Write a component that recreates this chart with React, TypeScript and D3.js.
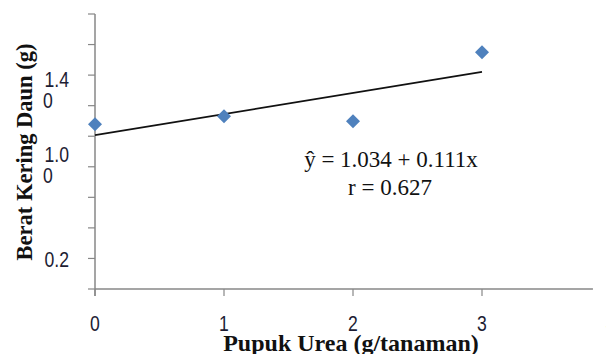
import React from "react";
import * as d3 from "d3";

// data
const ureaDose = [0, 1, 2, 3];
const leafDryWeight = [1.078, 1.131, 1.098, 1.549];
const xTicks = [0, 1, 2, 3, 4];
const yTicks = [0, 0.2, 0.4, 0.6, 0.8, 1.0, 1.2, 1.4, 1.6, 1.8];
const yTickLabels = [
  { value: 0.2, lines: ["0.2"] },
  { value: 1.0, lines: ["1.0", "0"] },
  { value: 1.4, lines: ["1.4", "0"] },
];
const equationText = "ŷ = 1.034 + 0.111x";
const rText = "r = 0.627";

const W = 606;
const H = 354;
const axisColor = "#878787";
const sans = '"Liberation Sans", Arial, sans-serif';
const serif = '"Liberation Serif", "Times New Roman", serif';
const squeeze = 0.8; // tick labels in the original are a narrow face

// small label nudges (the original labels sit a bit off their ticks)
const labelDy: Record<string, number> = { "0.2": 9, "1": 26, "1.4": 12 };

const NarrowText = ({ x, y, anchor, children }: { x: number; y: number; anchor?: string; children: React.ReactNode }) => (
  <text
    transform={`translate(${x},${y}) scale(${squeeze},1)`}
    textAnchor={anchor || "start"}
    fontFamily={sans}
    fontSize={22}
    fill="#1d1d33"
  >
    {children}
  </text>
);

const App = () => {
  const x = d3.scaleLinear().domain([0, 4]).range([95, 611]);
  const y = d3.scaleLinear().domain([0, 1.8]).range([289, 14]);

  // least squares fit of the points for the drawn trend line
  const mx = d3.mean(ureaDose)!;
  const my = d3.mean(leafDryWeight)!;
  const slope =
    d3.sum(ureaDose, (d, i) => (d - mx) * (leafDryWeight[i] - my)) /
    d3.sum(ureaDose, (d) => (d - mx) ** 2);
  const intercept = my - slope * mx;
  const trend = [0, 3].map((d) => [d, intercept + slope * d] as [number, number]);
  const line = d3
    .line<[number, number]>()
    .x((d) => x(d[0]))
    .y((d) => y(d[1]));

  const diamond = d3.symbol().type(d3.symbolSquare).size(98)()!;

  return (
    <svg width={W} height={H} style={{ position: "absolute", left: 0, top: 0, background: "#fff" }}>
      {/* y axis */}
      <line x1={x(0)} x2={x(0)} y1={y(1.8)} y2={y(0) + 7} stroke={axisColor} strokeWidth={1.5} />
      {yTicks.map((t) => (
        <line key={t} x1={x(0) - 7} x2={x(0)} y1={y(t)} y2={y(t)} stroke={axisColor} strokeWidth={1.2} />
      ))}
      {yTickLabels.map((l) => {
        const base = y(l.value) + labelDy[String(l.value)];
        return (
          <g key={l.value}>
            <NarrowText x={69} y={base} anchor="end">
              {l.lines[0]}
            </NarrowText>
            {l.lines[1] && (
              <NarrowText x={43} y={base + 21}>
                {l.lines[1]}
              </NarrowText>
            )}
          </g>
        );
      })}

      {/* x axis */}
      <line x1={x(0)} x2={x(3.86)} y1={y(0)} y2={y(0)} stroke={axisColor} strokeWidth={1.5} />
      {xTicks.map((t) => (
        <g key={t}>
          <line x1={x(t)} x2={x(t)} y1={y(0)} y2={y(0) + 7} stroke={axisColor} strokeWidth={1.2} />
          <NarrowText x={x(t)} y={331} anchor="middle">
            {t}
          </NarrowText>
        </g>
      ))}

      {/* trend line */}
      <path d={line(trend)!} fill="none" stroke="#111" strokeWidth={1.6} />

      {/* points */}
      {ureaDose.map((d, i) => (
        <path
          key={d}
          d={diamond}
          transform={`translate(${x(d)},${y(leafDryWeight[i])}) rotate(45)`}
          fill="#4F81BD"
        />
      ))}

      {/* equation */}
      <text x={391} y={167} textAnchor="middle" fontFamily={serif} fontSize={23} fill="#111">
        {equationText}
      </text>
      <text x={390} y={195} textAnchor="middle" fontFamily={serif} fontSize={23} fill="#111">
        {rText}
      </text>

      {/* axis titles */}
      <text
        x={351}
        y={351}
        textAnchor="middle"
        fontFamily={serif}
        fontWeight="bold"
        fontSize={24}
        fill="#111"
      >
        Pupuk Urea (g/tanaman)
      </text>
      <text
        transform="translate(32,152) rotate(-90)"
        textAnchor="middle"
        fontFamily={serif}
        fontWeight="bold"
        fontSize={22.5}
        fill="#111"
      >
        Berat Kering Daun (g)
      </text>
    </svg>
  );
};

export default App;
